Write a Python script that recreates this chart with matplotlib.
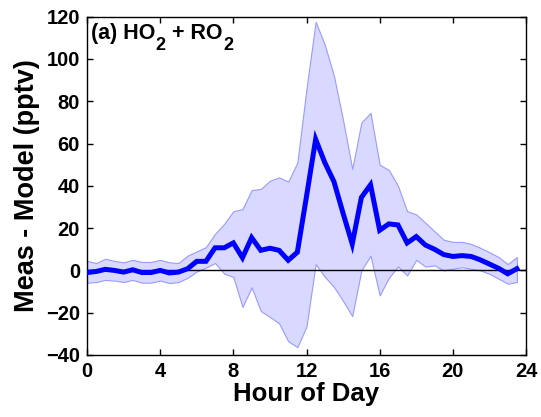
import numpy as np
import matplotlib
matplotlib.use("Agg")
import matplotlib.pyplot as plt
from matplotlib.transforms import IdentityTransform

plt.rcParams['font.family'] = ['Liberation Sans', 'DejaVu Sans']

hours = np.arange(0, 24, 0.5)

mean_diff = [-1, -0.5, 0.5, 0, -0.8, 0.3, -1, -1, 0, -1.2, -0.8, 0.8,
             4.3, 4.3, 10.7, 10.7, 13, 6, 15.5, 9.5, 10.5, 9.5, 4.8, 8.6,
             35, 62, 51, 42, 27, 12.5, 34.5, 40.5, 19, 22, 21.5, 13,
             16, 12, 10, 7.5, 6.6, 7, 6.6, 5, 3, 1, -1.6, 0.8]

upper = [4.5, 3.5, 5.5, 4.5, 3.8, 5, 4, 4, 5, 3.8, 3.5, 7,
         9, 11, 17.3, 22, 28, 29, 38, 38.5, 42.4, 44, 42, 51,
         86, 117.6, 106.7, 92, 71, 48, 70, 74.5, 50, 47.5, 40, 28,
         26.5, 22.5, 18.5, 14.5, 13.5, 13.5, 12.5, 10.7, 8.6, 6.3, 3, 6.3]

lower = [-5.8, -5.5, -4.5, -4.8, -5.5, -4.5, -5.8, -5.8, -4.8, -6, -5.5, -3.5,
         -0.5, 1.3, 3.5, -1.5, -3.1, -17.3, -8, -19.2, -22, -25, -33.5, -36.3,
         -26.5, 3, -3, -7.8, -14.5, -21.6, 0, 7, -11.8, -3.5, 1.9, -2.4,
         5, 1.8, 2.4, 0, 0.8, 1.5, 0.8, 0, -1.6, -3.9, -6.3, -5.5]

xticks = [0, 4, 8, 12, 16, 20, 24]
yticks = [-40, -20, 0, 20, 40, 60, 80, 100, 120]
label_parts = ['(a) HO', '2', ' + RO', '2']

fig = plt.figure(figsize=(5.41, 4.17), dpi=100)
ax = fig.add_axes([0.1608, 0.1487, 0.8115, 0.8113])

ax.fill_between(hours, lower, upper, facecolor='#d9d9ff', edgecolor='#9a9aff', linewidth=0.8, zorder=1)
ax.axhline(0, color='black', linewidth=1.0, zorder=2)
ax.plot(hours, mean_diff, color='#0000ff', linewidth=3.6, zorder=3, solid_joinstyle='miter')

ax.set_xlim(0, 24)
ax.set_ylim(-40, 120)
ax.set_xticks(xticks)
ax.set_yticks(yticks)
ax.tick_params(direction='in', top=True, right=True, length=4, width=1, labelsize=14.5, pad=5)
for lab in ax.get_xticklabels() + ax.get_yticklabels():
    lab.set_fontweight('bold')
for s in ax.spines.values():
    s.set_linewidth(1.0)

ax.set_xlabel('Hour of Day', fontsize=18.5, fontweight='bold', labelpad=1)
ax.set_ylabel('Meas - Model (pptv)', fontsize=19.5, fontweight='bold', labelpad=4)

# annotation with large subscripts, placed piece by piece
fig.canvas.draw()
renderer = fig.canvas.get_renderer()
x0, y0 = ax.transAxes.transform((0.009, 0.934))
xcur = x0
for i, part in enumerate(label_parts):
    is_sub = (i % 2 == 1)
    t = fig.text(xcur, y0 - (11 if is_sub else 0), part, transform=IdentityTransform(),
                 ha='left', va='baseline', fontsize=13 if is_sub else 15.5, fontweight='bold')
    bb = t.get_window_extent(renderer)
    xcur = bb.x1 + 0.5

fig.savefig('out.png', dpi=100)
